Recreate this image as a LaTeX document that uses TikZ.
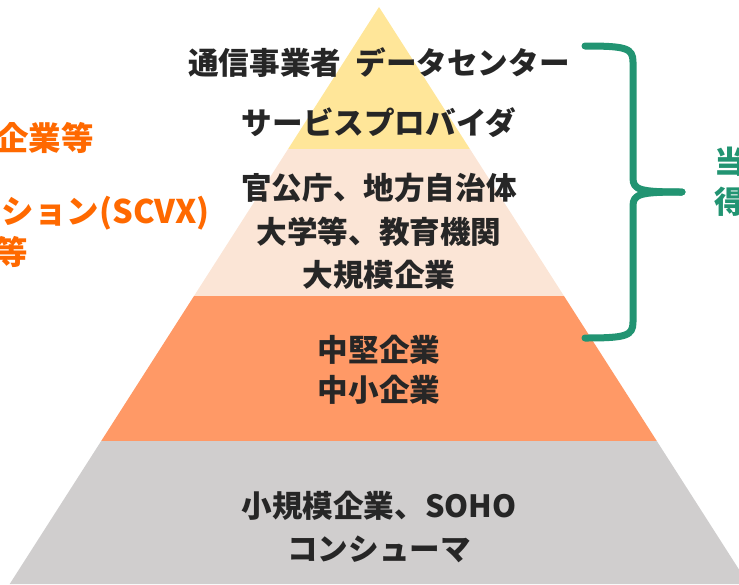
\documentclass[tikz,border=0pt]{standalone}
\usepackage{fontspec}
\usepackage{tikz}
\usetikzlibrary{positioning}
\newfontfamily\jpfont{Noto Sans CJK JP}
\definecolor{tierA}{RGB}{255, 230, 153}
\definecolor{tierB}{RGB}{251, 229, 214}
\definecolor{tierC}{RGB}{255, 153, 102}
\definecolor{tierD}{RGB}{208, 206, 206}
\definecolor{inktext}{RGB}{38, 38, 38}
\definecolor{sideorange}{RGB}{255, 105, 0}
\definecolor{bracegreen}{RGB}{34, 148, 114}
\tikzstyle{lbl} = [inner sep=0pt, text=inktext, font=\jpfont\bfseries\fontsize{30.6}{36}\selectfont]
\tikzstyle{side} = [inner sep=0pt, text=sideorange, font=\jpfont\bfseries\fontsize{32.5}{38}\selectfont]
\tikzstyle{gside} = [inner sep=0pt, text=bracegreen, font=\jpfont\bfseries\fontsize{31}{36}\selectfont]
\tikzstyle{brace} = [draw=bracegreen, line width=7pt, line cap=round, line join=round]

\begin{document}
\begin{tikzpicture}[x=1pt, y=-1pt]

\useasboundingbox (0,0) rectangle (739,584);

% tiers =============================
\fill[tierA] (379,7) -- (469.9,149) -- (288.1,149) -- cycle;
\fill[tierB] (288.1,149) -- (469.9,149) -- (564,296) -- (194,296) -- cycle;
\fill[tierC] (194,296) -- (564,296) -- (656.8,441) -- (101.2,441) -- cycle;
\fill[tierD] (101.2,441) -- (656.8,441) -- (739,569.5) -- (739,584) -- (9.7,584) -- cycle;

% tier labels
\node[lbl] (dc) at (379,63) {通信事業者\ \ データセンター};
\node[lbl] (sp) at (379,123) {サービスプロバイダ};

\node[lbl] (gov) at (379,188) {官公庁、地方自治体};
\node[lbl] (edu) at (379,232) {大学等、教育機関};
\node[lbl] (big) at (379,275) {大規模企業};

\node[lbl] (mid) at (379,350) {中堅企業};
\node[lbl] (sme) at (379,390) {中小企業};

\node[lbl] (soho) at (379,506) {小規模企業、SOHO};
\node[lbl] (cons) at (379,549) {コンシューマ};

% left side texts
\node[side, anchor=east] (lcorp) at (94,138) {企業等};
\node[side, anchor=east] (lscvx) at (210,213) {ション(SCVX)};
\node[side, anchor=east] (letc) at (28,252) {等};

% brace and right side texts
\coordinate (btop) at (585,46);
\coordinate (bbot) at (585,338);
\coordinate (btip) at (682,192);
\draw[brace] (btop) .. controls (626,46) and (633,48) .. (633,62)
  -- (633,178) .. controls (633,190) and (640,192) .. (btip);
\draw[brace] (bbot) .. controls (626,338) and (633,336) .. (633,322)
  -- (633,206) .. controls (633,194) and (640,192) .. (btip);

\node[gside, anchor=west] (rtop) at (714,162) {当};
\node[gside, anchor=west] (rbot) at (714,202) {得};

\end{tikzpicture}
\end{document}
